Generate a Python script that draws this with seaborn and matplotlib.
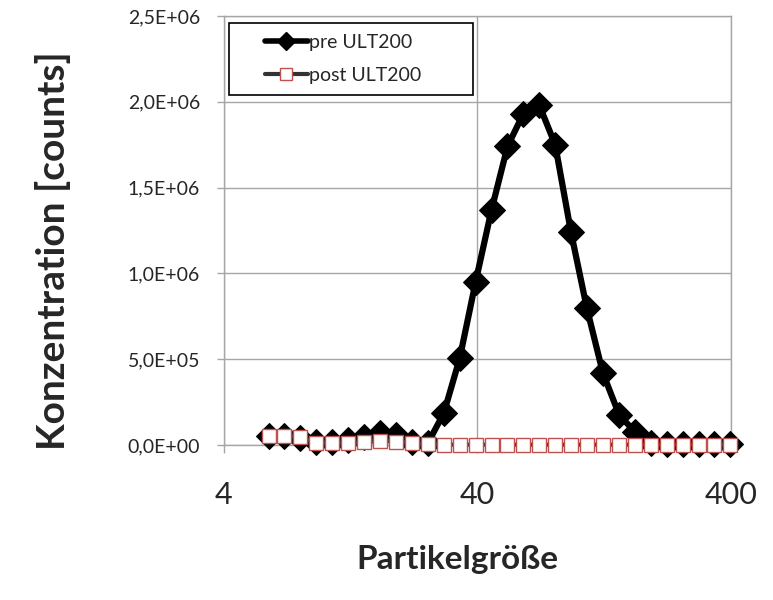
import pandas as pd
import matplotlib
matplotlib.use("Agg")
import matplotlib.pyplot as plt
import matplotlib.ticker as mticker
from matplotlib.patches import Rectangle
from matplotlib.lines import Line2D
import seaborn as sns

# particle size bins (nm)
size = [6.02, 6.95, 8.03, 9.28, 10.7, 12.4, 14.3, 16.5, 19.1, 22.1,
        25.5, 29.5, 34.1, 39.4, 45.5, 52.6, 60.7, 70.2, 81.1, 93.6,
        108, 125, 145, 167, 193, 223, 258, 298, 344, 398]

pre_ult200 = [5.2e4, 5.2e4, 3.9e4, 1.9e4, 1.9e4, 2.9e4, 4.5e4, 6.8e4, 5.8e4, 1.9e4,
              1.0e4, 1.85e5, 5.06e5, 9.52e5, 1.37e6, 1.74e6, 1.93e6, 1.98e6, 1.75e6, 1.24e6,
              8.0e5, 4.2e5, 1.75e5, 7.8e4, 1.0e4, 5e3, 5e3, 5e3, 5e3, 5e3]

post_ult200 = [5.0e4, 5.5e4, 4.5e4, 1.3e4, 1.3e4, 1.3e4, 1.5e4, 2.5e4, 1.9e4, 1.3e4,
               5e3, 2e3, 2e3, 2e3, 2e3, 2e3, 2e3, 2e3, 2e3, 2e3,
               2e3, 2e3, 2e3, 2e3, 2e3, 2e3, 2e3, 2e3, 2e3, 2e3]

x_ticks = [4, 40, 400]
y_ticks = [0, 5e5, 1e6, 1.5e6, 2e6, 2.5e6]
y_tick_labels = ["0,0E+00", "5,0E+05", "1,0E+06", "1,5E+06", "2,0E+06", "2,5E+06"]

df = pd.DataFrame({"size": size, "pre": pre_ult200, "post": post_ult200})

sns.set_theme(style="white")
plt.rcParams["font.family"] = ["Lato", "DejaVu Sans"]

fig = plt.figure(figsize=(7.73, 6.0), dpi=100)
ax = fig.add_axes([0.2893, 0.2583, 0.6564, 0.715])

grid_col = "#a6a6a6"
post_red = "#c0504d"

sns.lineplot(data=df, x="size", y="pre", ax=ax, color="black", linewidth=4.5,
             marker="D", markersize=13, markeredgecolor="black",
             markerfacecolor="black", zorder=3, clip_on=False)
sns.lineplot(data=df, x="size", y="post", ax=ax, color="#333333", linewidth=3.0,
             marker="s", markersize=9.5, markeredgecolor=post_red,
             markerfacecolor="white", markeredgewidth=1.0, zorder=4, clip_on=False)

ax.set_xscale("log")
ax.set_xlim(4, 400)
ax.set_ylim(0, 2.5e6)
ax.set_xticks(x_ticks)
ax.xaxis.set_major_formatter(mticker.FixedFormatter([str(t) for t in x_ticks]))
ax.xaxis.set_minor_locator(mticker.NullLocator())
ax.set_yticks(y_ticks)
ax.set_yticklabels(y_tick_labels)

ax.grid(True, which="major", color=grid_col, linewidth=1.0)
ax.set_axisbelow(True)
for side in ["left", "bottom", "top", "right"]:
    ax.spines[side].set_color(grid_col)
    ax.spines[side].set_linewidth(1.0)

ax.tick_params(axis="y", which="major", length=5, width=1, color=grid_col,
               direction="out", left=True, labelsize=14, pad=12)
ax.tick_params(axis="x", which="major", length=6, width=1, color=grid_col,
               direction="out", bottom=True, labelsize=22, pad=20)

ax.set_xlabel("Partikelgröße", fontsize=24, fontweight="bold")
ax.set_ylabel("Konzentration [counts]", fontsize=28, fontweight="bold")
ax.xaxis.set_label_coords(0.461, -0.232)
ax.yaxis.set_label_coords(-0.30, 0.452)

# legend box like the Excel original
ax.add_patch(Rectangle((0.0106, 0.816), 0.48, 0.168, transform=ax.transAxes,
                       facecolor="white", edgecolor="black", linewidth=1.2, zorder=5))
handles = [
    Line2D([], [], color="black", linewidth=4.0, marker="D", markersize=9,
           markerfacecolor="black", markeredgecolor="black"),
    Line2D([], [], color="#333333", linewidth=3.0, marker="s", markersize=8,
           markerfacecolor="white", markeredgecolor=post_red),
]
leg = ax.legend(handles, ["pre ULT200", "post ULT200"], loc="center",
                bbox_to_anchor=(0.235, 0.9), frameon=False, fontsize=14,
                handlelength=2.2, handletextpad=0.05, labelspacing=0.85)
leg.set_zorder(6)

fig.savefig("out.png", dpi=100)
